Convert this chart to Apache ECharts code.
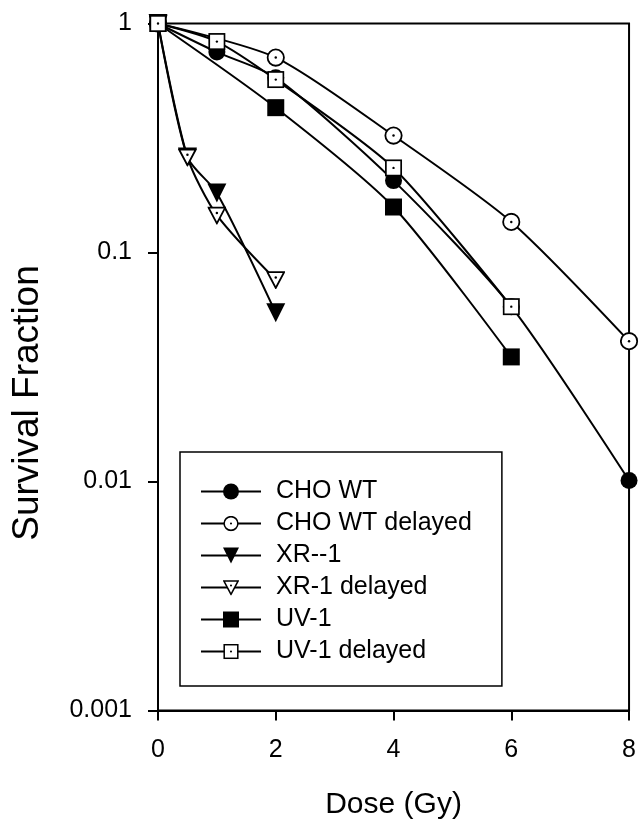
<!DOCTYPE html>
<html lang="en">
<head>
    <meta charset="UTF-8">
    <title>Survival Fraction | ECharts</title>
    <script src="https://cdn.jsdelivr.net/npm/echarts@6/dist/echarts.min.js"></script>
    <style>
        html, body { margin: 0; padding: 0; background: #fff; }
    </style>
</head>
<body>
<div id="main" style="width: 639px; height: 826px;"></div>

<script type="text/javascript">
    // data
    var choWtDose = [0, 1, 2, 4, 6, 8];
    var choWtSurv = [1, 0.75, 0.58, 0.206, 0.058, 0.0101];

    var choWtDelDose = [0, 2, 4, 6, 8];
    var choWtDelSurv = [1, 0.71, 0.324, 0.136, 0.041];

    var xr1Dose = [0, 0.5, 1, 2];
    var xr1Surv = [1, 0.261, 0.182, 0.0545];

    var xr1DelDose = [0, 0.5, 1, 2];
    var xr1DelSurv = [1, 0.261, 0.1455, 0.076];

    var uv1Dose = [0, 2, 4, 6];
    var uv1Surv = [1, 0.429, 0.158, 0.035];

    var uv1DelDose = [0, 1, 2, 4, 6];
    var uv1DelSurv = [1, 0.834, 0.569, 0.234, 0.058];

    var seriesNames = ['CHO WT', 'CHO WT delayed', 'XR--1', 'XR-1 delayed', 'UV-1', 'UV-1 delayed'];
    var yTicks = [0.001, 0.01, 0.1, 1];
    var yTickLabels = ['0.001', '0.01', '0.1', '1'];

    var FONT = "'Liberation Sans', Arial, Helvetica, sans-serif";

    // open markers with a dot in the middle, white inside
    function svgSymbol(body) {
        var svg = "<svg xmlns='http://www.w3.org/2000/svg' width='40' height='40' viewBox='0 0 20 20'>" + body + "</svg>";
        return 'image://data:image/svg+xml;charset=utf-8,' + encodeURIComponent(svg);
    }
    var openCircle = svgSymbol("<circle cx='10' cy='10' r='8.6' fill='white' stroke='black' stroke-width='1.9'/><circle cx='10' cy='10' r='1.3' fill='black'/>");
    var openTriangle = svgSymbol("<polygon points='1.2,2 18.8,2 10,18.6' fill='white' stroke='black' stroke-width='1.9' stroke-linejoin='miter'/><circle cx='10' cy='7.6' r='1.3' fill='black'/>");
    var openSquare = svgSymbol("<rect x='1.5' y='1.5' width='17' height='17' fill='white' stroke='black' stroke-width='1.9'/><circle cx='10' cy='10' r='1.3' fill='black'/>");

    function pairs(xs, ys) {
        return xs.map(function (x, i) { return [x, ys[i]]; });
    }

    function makeSeries(name, xs, ys, symbol, size, rotate) {
        return {
            name: name,
            type: 'line',
            data: pairs(xs, ys),
            smooth: 0.25,
            clip: false,
            symbol: symbol,
            symbolSize: size,
            symbolRotate: rotate || 0,
            showAllSymbol: true,
            lineStyle: { color: '#000', width: 2 },
            itemStyle: { color: '#000', borderColor: '#000', borderWidth: 0 },
            emphasis: { disabled: true },
            animation: false
        };
    }

    var myChart = echarts.init(document.getElementById('main'), null, { renderer: 'canvas' });

    var option = {
        backgroundColor: '#fff',
        textStyle: { fontFamily: FONT, color: '#000' },
        grid: {
            left: 158,
            right: 9,
            top: 23.5,
            bottom: 115.5,
            show: true,
            borderColor: '#000',
            borderWidth: 2
        },
        legend: {
            data: seriesNames,
            orient: 'vertical',
            left: 180,
            top: 452,
            padding: [27, 30, 22, 20],
            itemWidth: 60,
            itemHeight: 20,
            itemGap: 7,
            borderColor: '#000',
            borderWidth: 1.5,
            backgroundColor: '#fff',
            selectedMode: false,
            textStyle: { fontFamily: FONT, fontSize: 25, color: '#000', padding: [0, 0, 0, 10] }
        },
        xAxis: {
            type: 'value',
            min: 0,
            max: 8,
            interval: 2,
            name: 'Dose (Gy)',
            nameLocation: 'middle',
            nameGap: 79,
            nameTextStyle: { fontFamily: FONT, fontSize: 30, color: '#000' },
            axisLine: { onZero: false, lineStyle: { color: '#000', width: 2 } },
            axisTick: { length: 10, lineStyle: { color: '#000', width: 2 } },
            axisLabel: { fontFamily: FONT, fontSize: 25, color: '#000', margin: 27 },
            splitLine: { show: false }
        },
        yAxis: {
            type: 'log',
            logBase: 10,
            min: 0.001,
            max: 1,
            name: 'Survival Fraction',
            nameLocation: 'middle',
            nameGap: 112,
            nameTextStyle: { fontFamily: FONT, fontSize: 37, color: '#000', padding: [0, 72, 0, 0] },
            axisLine: { lineStyle: { color: '#000', width: 2 } },
            axisTick: { length: 10, lineStyle: { color: '#000', width: 2 } },
            axisLabel: {
                fontFamily: FONT,
                fontSize: 25,
                color: '#000',
                margin: 26,
                formatter: function (v) {
                    var best = 0;
                    for (var i = 1; i < yTicks.length; i++) {
                        if (Math.abs(Math.log10(yTicks[i]) - Math.log10(v)) < Math.abs(Math.log10(yTicks[best]) - Math.log10(v))) best = i;
                    }
                    return yTickLabels[best];
                }
            },
            splitLine: { show: false }
        },
        series: [
            makeSeries(seriesNames[0], choWtDose, choWtSurv, 'circle', 17),
            makeSeries(seriesNames[1], choWtDelDose, choWtDelSurv, openCircle, 19),
            makeSeries(seriesNames[2], xr1Dose, xr1Surv, 'triangle', 19, 180),
            makeSeries(seriesNames[3], xr1DelDose, xr1DelSurv, openTriangle, 19),
            makeSeries(seriesNames[4], uv1Dose, uv1Surv, 'rect', 17),
            makeSeries(seriesNames[5], uv1DelDose, uv1DelSurv, openSquare, 18)
        ]
    };

    myChart.setOption(option);
</script>
</body>
</html>
